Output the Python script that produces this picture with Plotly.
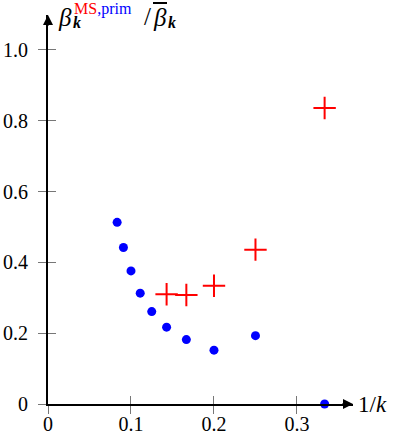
import plotly.graph_objects as go

# data
inv_k = [0.0833, 0.0909, 0.1000, 0.1111, 0.1250, 0.1429, 0.1667, 0.2000, 0.2500, 0.3333]
prim_ratio = [0.513, 0.442, 0.376, 0.313, 0.261, 0.217, 0.182, 0.152, 0.193, 0.0]
inv_k_ms = [0.1429, 0.1667, 0.2000, 0.2500, 0.3333]
ms_ratio = [0.310, 0.308, 0.334, 0.436, 0.836]
xticks = [0, 0.1, 0.2, 0.3]
xticklabels = ["0", "0.1", "0.2", "0.3"]
yticks = [0, 0.2, 0.4, 0.6, 0.8, 1.0]
yticklabels = ["0", "0.2", "0.4", "0.6", "0.8", "1.0"]

W, H = 400, 440
L, R, T, B = 48, 47, 15, 36
XMAX = 0.3675
YMAX = 1.0987
FONT = "Liberation Serif, serif"

fig = go.Figure()
fig.add_trace(go.Scatter(x=inv_k, y=prim_ratio, mode="markers",
                         marker=dict(symbol="circle", size=9, color="#0000ff"),
                         cliponaxis=False, showlegend=False))
fig.add_trace(go.Scatter(x=inv_k_ms, y=ms_ratio, mode="markers",
                         marker=dict(symbol="cross-thin", size=16,
                                     line=dict(width=2, color="#ff0000"), color="#ff0000"),
                         cliponaxis=False, showlegend=False))
# invisible trace for overlay axes
fig.add_trace(go.Scatter(x=[None], y=[None], xaxis="x2", yaxis="y2", showlegend=False))

common = dict(showgrid=False, zeroline=False, ticklen=8, tickwidth=1, tickcolor="#777",
              automargin=False)
fig.update_layout(
    width=W, height=H, margin=dict(l=L, r=R, t=T, b=B, autoexpand=False),
    paper_bgcolor="white", plot_bgcolor="white",
    font=dict(family=FONT, color="black"),
    xaxis=dict(range=[0, XMAX], tickvals=xticks, ticktext=xticklabels, ticks="outside",
               showline=True, linecolor="black", linewidth=2,
               tickfont=dict(family=FONT, size=20, color="black"), ticklabelstandoff=-7, **common),
    yaxis=dict(range=[0, YMAX], tickvals=yticks, ticktext=yticklabels, ticks="outside",
               showline=True, linecolor="black", linewidth=2,
               tickfont=dict(family=FONT, size=20, color="black"), ticklabelstandoff=6, **common),
    xaxis2=dict(range=[0, XMAX], tickvals=xticks, ticks="inside", overlaying="x", anchor="y2",
                side="bottom", showticklabels=False, showline=False, **common),
    yaxis2=dict(range=[0, YMAX], tickvals=yticks, ticks="inside", overlaying="y", anchor="x2",
                side="left", showticklabels=False, showline=False, **common),
)

def px2paper(px, py):
    return (px - L) / (W - L - R), (H - B - py) / (H - T - B)

ann = []
# axis arrowheads
ann.append(dict(x=XMAX, y=0, xref="x", yref="y", ax=-12, ay=0, text="", showarrow=True,
                arrowhead=2, arrowsize=1, arrowwidth=2, arrowcolor="black"))
ann.append(dict(x=0, y=YMAX, xref="x", yref="y", ax=0, ay=12, text="", showarrow=True,
                arrowhead=2, arrowsize=1, arrowwidth=2, arrowcolor="black"))
# x label
ann.append(dict(x=1, y=0, xref="paper", yref="paper", xanchor="left", yanchor="middle",
                xshift=3, text="1/<i>k</i>", showarrow=False,
                font=dict(family=FONT, size=23, color="black")))

def lab(text, px, py, size, color="black", xanchor="center"):
    x, y = px2paper(px, py)
    ann.append(dict(x=x, y=y, xref="paper", yref="paper", xanchor=xanchor, yanchor="middle",
                    text=text, showarrow=False, font=dict(family=FONT, size=size, color=color)))

lab("<i>β</i>", 65, 17, 25)
lab("<i><b>k</b></i>", 77, 23, 16)
lab("<span style='color:#ff0000'>MS</span><span style='color:#0000ff'>,prim</span>", 72, 9, 16, xanchor="left")
lab("/", 147, 16, 25)
lab("<i>β</i>", 160, 18, 25)
lab("<i><b>k</b></i>", 172, 23, 16)
fig.update_layout(annotations=ann)

x0, y0 = px2paper(153, 3)
x1, _ = px2paper(167, 3)
fig.add_shape(type="line", xref="paper", yref="paper", x0=x0, x1=x1, y0=y0, y1=y0,
              line=dict(color="black", width=2))

fig.write_html("out.html")
